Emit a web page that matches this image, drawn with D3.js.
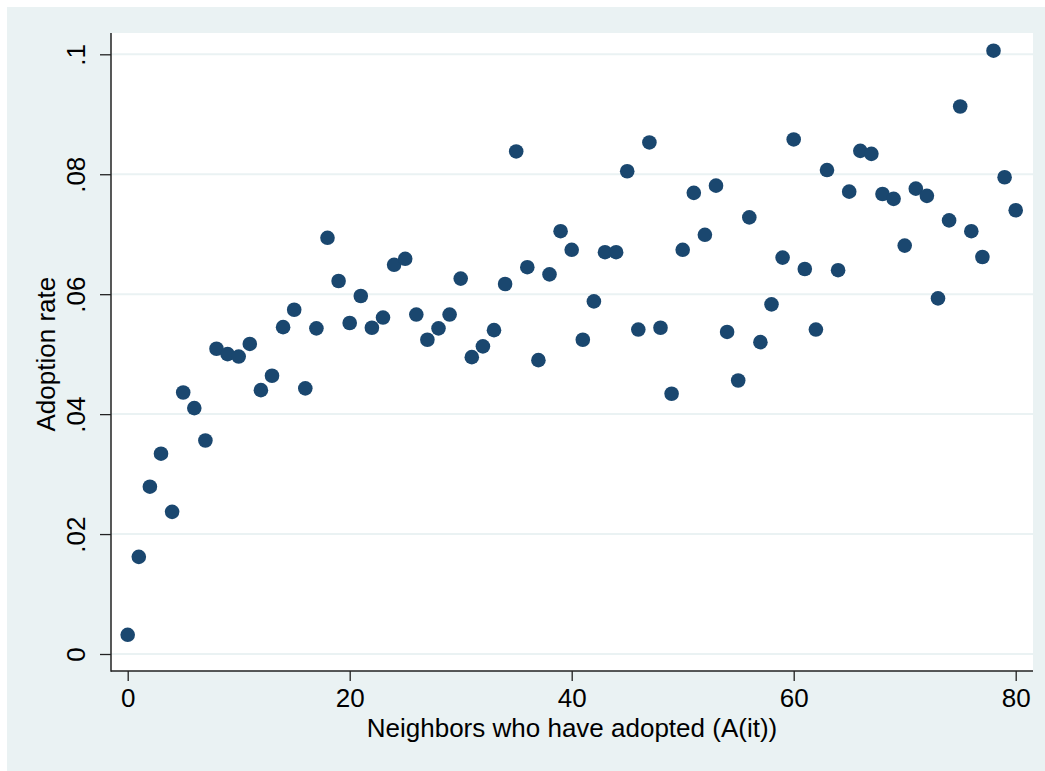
<!DOCTYPE html>
<html>
<head>
<meta charset="utf-8">
<script src="https://cdn.jsdelivr.net/npm/d3@7"></script>
<style>
  body { margin: 0; background: #fff; }
  text { font-family: "Liberation Sans", Arial, sans-serif; fill: #000; }
</style>
</head>
<body>
<div id="chart"></div>
<script>
var neighbors = [0, 1, 2, 3, 4, 5, 6, 7, 8, 9, 10, 11, 12, 13, 14, 15, 16, 17, 18, 19, 20,
  21, 22, 23, 24, 25, 26, 27, 28, 29, 30, 31, 32, 33, 34, 35, 36, 37, 38, 39, 40,
  41, 42, 43, 44, 45, 46, 47, 48, 49, 50, 51, 52, 53, 54, 55, 56, 57, 58, 59, 60,
  61, 62, 63, 64, 65, 66, 67, 68, 69, 70, 71, 72, 73, 74, 75, 76, 77, 78, 79, 80];

var adoption = [0.0032, 0.0162, 0.0279, 0.0334, 0.0237, 0.0436, 0.0410, 0.0356, 0.0509, 0.0500,
  0.0496, 0.0517, 0.0440, 0.0464, 0.0545, 0.0574, 0.0443, 0.0543, 0.0694, 0.0622,
  0.0552, 0.0597, 0.0544, 0.0561, 0.0649, 0.0659, 0.0566, 0.0524, 0.0543, 0.0566,
  0.0626, 0.0495, 0.0513, 0.0540, 0.0617, 0.0838, 0.0645, 0.0490, 0.0633, 0.0705,
  0.0674, 0.0524, 0.0588, 0.0670, 0.0670, 0.0805, 0.0541, 0.0853, 0.0544, 0.0434,
  0.0674, 0.0769, 0.0699, 0.0781, 0.0537, 0.0456, 0.0728, 0.0520, 0.0583, 0.0661,
  0.0858, 0.0642, 0.0541, 0.0807, 0.0640, 0.0771, 0.0839, 0.0834, 0.0767, 0.0759,
  0.0681, 0.0776, 0.0764, 0.0593, 0.0723, 0.0913, 0.0705, 0.0662, 0.1006, 0.0795,
  0.0740];

var xTicks = [0, 20, 40, 60, 80];
var yTicks = [0, 0.02, 0.04, 0.06, 0.08, 0.1];
var yTickLabels = ['0', '.02', '.04', '.06', '.08', '.1'];

var xTitle = 'Neighbors who have adopted (A(it))';
var yTitle = 'Adoption rate';

var W = 1045, H = 771;
// plot region (white box)
var plot = { left: 111, top: 33, right: 1033, bottom: 671 };

var x = d3.scaleLinear().domain([0, 80]).range([127.7, 1015.7]);
var y = d3.scaleLinear().domain([0, 0.1]).range([654, 54.3]);

var svg = d3.select('#chart').append('svg').attr('width', W).attr('height', H);

// graph region background
svg.append('rect').attr('x', 7).attr('y', 7).attr('width', W - 7).attr('height', H - 7).attr('fill', '#eaf2f3');

svg.append('rect')
  .attr('x', plot.left).attr('y', plot.top)
  .attr('width', plot.right - plot.left).attr('height', plot.bottom - plot.top)
  .attr('fill', '#fff');

// gridlines
svg.append('g').selectAll('line').data(yTicks).join('line')
  .attr('x1', plot.left).attr('x2', plot.right)
  .attr('y1', (d) => y(d)).attr('y2', (d) => y(d))
  .attr('stroke', '#eaf2f3').attr('stroke-width', 2);

// x axis
var xAxis = d3.axisBottom(x).tickValues(xTicks).tickSize(10).tickPadding(4).tickSizeOuter(0);
var gx = svg.append('g').attr('transform', 'translate(0,' + plot.bottom + ')').call(xAxis);
gx.select('.domain').remove();
gx.selectAll('.tick line').attr('stroke', '#222').attr('stroke-width', 1.3);
gx.selectAll('.tick text').attr('font-size', 26).attr('font-family', 'Liberation Sans, Arial, sans-serif').attr('fill', '#000').attr('y', 36).attr('dy', 0);

// y axis
var yAxis = d3.axisLeft(y).tickValues(yTicks).tickSize(11).tickSizeOuter(0)
  .tickFormat((d, i) => yTickLabels[i]);
var gy = svg.append('g').attr('transform', 'translate(' + plot.left + ',0)').call(yAxis);
gy.select('.domain').remove();
gy.selectAll('.tick line').attr('stroke', '#222').attr('stroke-width', 1.3);
gy.selectAll('.tick text')
  .attr('font-size', 26).attr('font-family', 'Liberation Sans, Arial, sans-serif').attr('fill', '#000')
  .attr('x', null).attr('dy', null)
  .attr('text-anchor', 'middle')
  .attr('transform', 'translate(-26,0) rotate(-90)');

// axis lines
svg.append('line').attr('x1', plot.left).attr('x2', plot.left).attr('y1', plot.top).attr('y2', plot.bottom + 0.7)
  .attr('stroke', '#222').attr('stroke-width', 1.5);
svg.append('line').attr('x1', plot.left).attr('x2', plot.right).attr('y1', plot.bottom).attr('y2', plot.bottom)
  .attr('stroke', '#222').attr('stroke-width', 1.5);

// points
svg.append('g').selectAll('circle').data(neighbors).join('circle')
  .attr('cx', (d) => x(d))
  .attr('cy', (d, i) => y(adoption[i]))
  .attr('r', 7.3)
  .attr('fill', '#1a476f');

// titles
svg.append('text').attr('x', (plot.left + plot.right) / 2).attr('y', 737)
  .attr('text-anchor', 'middle').attr('font-size', 26).text(xTitle);

svg.append('text').attr('transform', 'translate(55,' + (y(0.05) + 0) + ') rotate(-90)')
  .attr('text-anchor', 'middle').attr('font-size', 26).text(yTitle);
</script>
</body>
</html>
